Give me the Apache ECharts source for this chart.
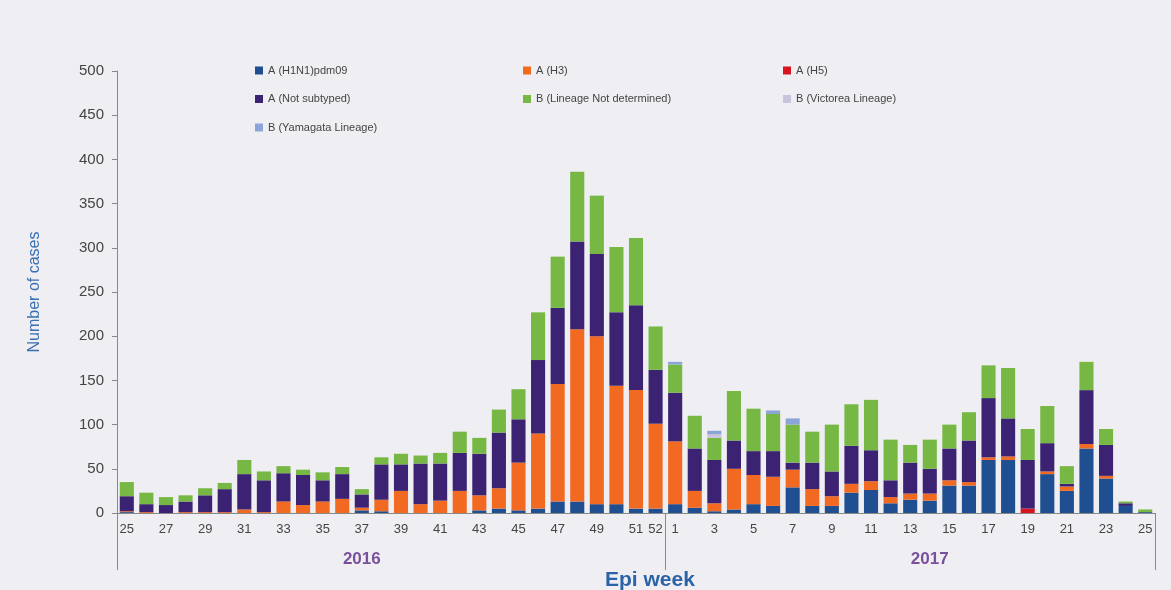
<!DOCTYPE html>
<html>
<head>
<meta charset="utf-8">
<script src="https://cdn.jsdelivr.net/npm/echarts@6/dist/echarts.min.js"></script>
<style>
html,body{margin:0;padding:0;background:#efeff3;}
#chart{width:1171px;height:590px;}
</style>
</head>
<body>
<div id="chart"></div>
<script>
// Epi weeks: 2016 weeks 25-52, 2017 weeks 1-25
const weeks2016 = ['25','26','27','28','29','30','31','32','33','34','35','36','37','38','39','40','41','42','43','44','45','46','47','48','49','50','51','52'];
const weeks2017 = ['1','2','3','4','5','6','7','8','9','10','11','12','13','14','15','16','17','18','19','20','21','22','23','24','25'];
const categories = weeks2016.concat(weeks2017);
const yearLabels = ['2016', '2017'];
const yTicks = [0, 50, 100, 150, 200, 250, 300, 350, 400, 450, 500];

const h1n1 = [1,0,0,0,0,0,0,0,0,0,0,0,3,2,0,0,0,0,3,5,3,5,13,13,10,10,5,5,
              10,6,2,4,10,8,29,8,8,23,26,11,15,14,31,31,60,60,0,44,25,73,39,8,1];
const h3 = [1,1,0,1,1,1,4,1,13,9,13,16,3,13,25,10,14,25,17,23,54,85,133,195,190,134,134,96,
            71,19,9,46,33,33,20,19,11,10,10,7,7,8,6,4,3,4,0,3,5,5,3,0,0];
const h5 = [0,0,0,0,0,0,0,0,0,0,0,0,0,0,0,0,0,0,0,0,0,0,0,0,0,0,0,0,
            0,0,0,0,0,0,0,0,0,0,0,0,0,0,0,0,0,0,5,0,0,0,0,0,0];
const notSubtyped = [17,9,9,12,19,26,40,36,32,34,24,28,15,40,30,46,42,43,47,63,49,83,86,99,93,83,96,61,
                     55,48,49,32,27,29,8,30,28,43,35,19,35,28,36,47,67,43,55,32,3,61,35,3,0];
const bNotDetermined = [16,13,9,7,8,7,16,10,8,6,9,8,6,8,12,9,12,24,18,26,34,54,58,79,66,74,76,49,
                        32,37,25,56,48,42,43,35,53,47,57,46,20,33,27,32,37,57,35,42,20,32,18,2,3];
const bVictoria = [0,0,0,0,0,0,0,0,0,0,0,0,0,0,0,0,0,0,0,0,0,0,0,0,0,0,0,0,
                   0,0,4,0,0,0,0,0,0,0,0,0,0,0,0,0,0,0,0,0,0,0,0,0,0];
const bYamagata = [0,0,0,0,0,0,0,0,0,0,0,0,0,0,0,0,0,0,0,0,0,0,0,0,0,0,0,0,
                   3,0,4,0,0,4,7,0,0,0,0,0,0,0,0,0,0,0,0,0,0,0,0,0,0];

const seriesDefs = [
  {name: 'A (H1N1)pdm09', data: h1n1, color: '#1f4f91'},
  {name: 'A (H3)', data: h3, color: '#f26a22'},
  {name: 'A (H5)', data: h5, color: '#d9141f'},
  {name: 'A (Not subtyped)', data: notSubtyped, color: '#3b2272'},
  {name: 'B (Lineage Not determined)', data: bNotDetermined, color: '#76b843'},
  {name: 'B (Victorea Lineage)', data: bVictoria, color: '#c9c4dc'},
  {name: 'B (Yamagata Lineage)', data: bYamagata, color: '#8ba6d6'}
];

const chart = echarts.init(document.getElementById('chart'), null, {renderer: 'canvas'});
const legendText = {color: '#444', fontSize: 11, fontFamily: 'Liberation Sans, Arial, sans-serif'};
const legendBase = {
  orient: 'vertical', top: 65, itemWidth: 8, itemHeight: 8, itemGap: 17.5,
  icon: 'rect', textStyle: legendText, selectedMode: false, padding: 0
};
const boundaryIdx = weeks2016.length;

chart.setOption({
  backgroundColor: '#efeff3',
  animation: false,
  title: {
    text: 'Epi week', left: 600, top: 565,
    textStyle: {color: '#2a63a8', fontSize: 21, fontWeight: 'bold', fontFamily: 'Liberation Sans, Arial, sans-serif'}
  },
  legend: [
    Object.assign({}, legendBase, {left: 255, data: ['A (H1N1)pdm09', 'A (Not subtyped)', 'B (Yamagata Lineage)']}),
    Object.assign({}, legendBase, {left: 523, data: ['A (H3)', 'B (Lineage Not determined)']}),
    Object.assign({}, legendBase, {left: 783, data: ['A (H5)', 'B (Victorea Lineage)']})
  ],
  grid: {left: 117, right: 16, top: 71, bottom: 77, containLabel: false},
  xAxis: [
    {
      type: 'category', data: categories, position: 'bottom',
      axisLine: {lineStyle: {color: '#888', width: 1}},
      axisTick: {show: false},
      axisLabel: {
        color: '#444', fontSize: 13, margin: 10, fontFamily: 'Liberation Sans, Arial, sans-serif',
        interval: function (idx, val) { return (+val) % 2 === 1 || idx === boundaryIdx - 1; }
      }
    },
    {
      type: 'category', data: categories, position: 'bottom',
      axisLine: {show: false},
      axisTick: {
        show: true, length: 57, lineStyle: {color: '#888', width: 1},
        interval: function (idx) { return idx === 0 || idx === boundaryIdx; }
      },
      axisLabel: {
        color: '#7a4f9c', fontSize: 17, fontWeight: 'bold', margin: 38,
        fontFamily: 'Liberation Sans, Arial, sans-serif',
        interval: function (idx) { return idx === 12 || idx === 41; },
        formatter: function (v, idx) { return idx < boundaryIdx ? yearLabels[0] : yearLabels[1]; }
      }
    }
  ],
  yAxis: {
    type: 'value', min: yTicks[0], max: yTicks[yTicks.length - 1], interval: 50,
    name: 'Number of cases', nameLocation: 'middle', nameGap: 74,
    nameTextStyle: {color: '#3a6fb2', fontSize: 16, fontFamily: 'Liberation Sans, Arial, sans-serif'},
    axisLine: {show: true, lineStyle: {color: '#888'}},
    axisTick: {show: true, length: 5, lineStyle: {color: '#888'}},
    splitLine: {show: false},
    axisLabel: {color: '#444', fontSize: 15, margin: 13, fontFamily: 'Liberation Sans, Arial, sans-serif'}
  },
  series: seriesDefs.map(function (s) {
    return {
      name: s.name, type: 'bar', stack: 'total', data: s.data,
      barCategoryGap: '28%', itemStyle: {color: s.color}, xAxisIndex: 0
    };
  })
});
</script>
</body>
</html>
